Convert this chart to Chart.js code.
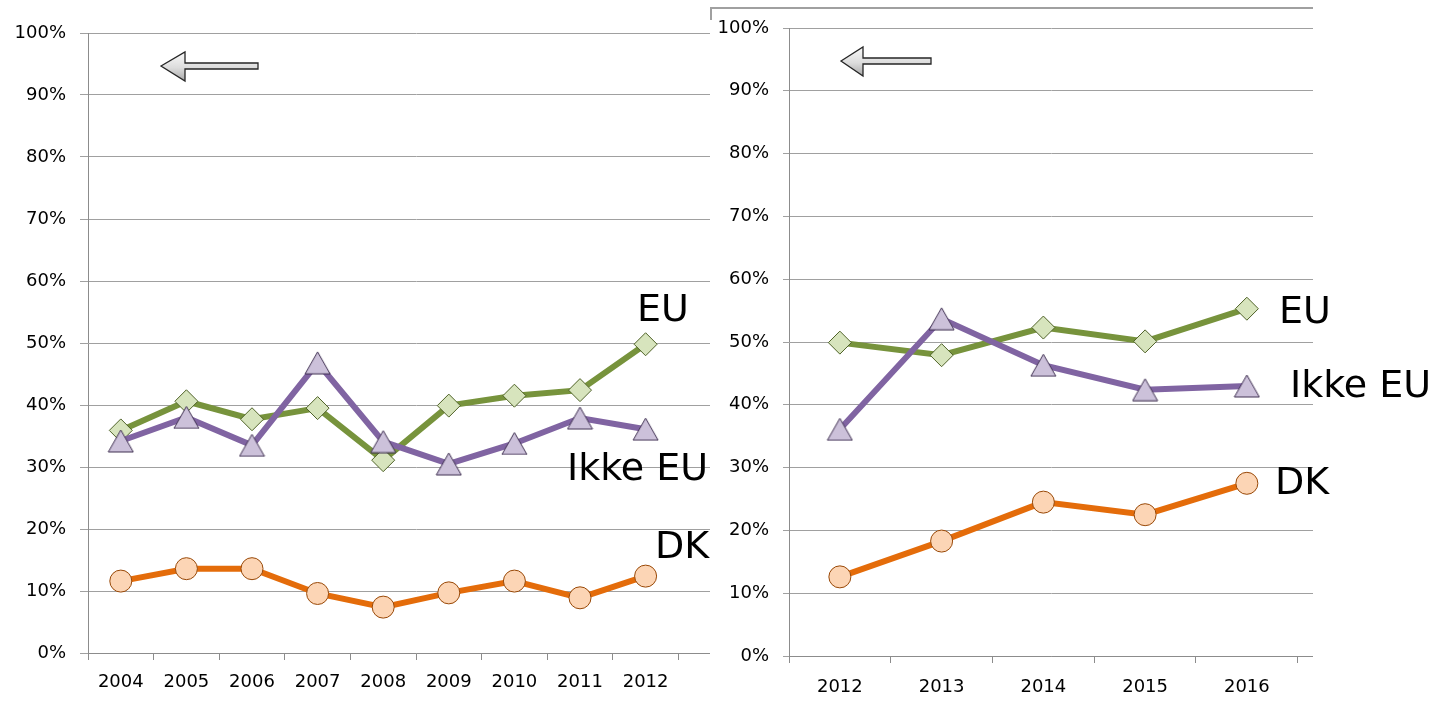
<!DOCTYPE html>
<html>
<head>
<meta charset="utf-8">
<script src="https://cdn.jsdelivr.net/npm/chart.js@4"></script>
<style>
body { margin:0; width:1436px; height:705px; background:#fff; position:relative; overflow:hidden; font-family:'DejaVu Sans', sans-serif; }
.box { position:absolute; top:0; height:705px; }
#leftBox { left:0; width:750px; z-index:1; }
#rightBox { left:710px; width:603px; background:#fff; z-index:2; }
.lbl { position:absolute; font-size:38px; line-height:38px; color:#000; white-space:nowrap; }
.under { z-index:1; }
.over { z-index:3; }
.arrow { position:absolute; }
.frame { position:absolute; background:#a0a0a0; }
</style>
</head>
<body>
<div id="leftBox" class="box"><canvas id="leftChart" width="750" height="705"></canvas></div>
<div class="lbl under" style="left:637px; top:289px;">EU</div>
<div class="lbl under" style="left:567px; top:448px;">Ikke EU</div>
<div class="lbl under" style="left:655px; top:526px;">DK</div>
<svg class="arrow" style="left:155px; top:46px; z-index:1;" width="110" height="42">
  <defs><linearGradient id="ga" x1="0" y1="0" x2="0" y2="1">
    <stop offset="0" stop-color="#fafafa"/><stop offset="0.55" stop-color="#dcdcdc"/><stop offset="1" stop-color="#a8a8a8"/>
  </linearGradient></defs>
  <path d="M6,20 L30,6 L30,17 L103,17 L103,23 L30,23 L30,35 Z" fill="url(#ga)" stroke="#262626" stroke-width="1.3" stroke-linejoin="miter"/>
</svg>

<div id="rightBox" class="box">
  <canvas id="rightChart" width="603" height="705"></canvas>
  <div class="frame" style="left:0; top:7px; width:603px; height:2px;"></div>
  <div class="frame" style="left:0; top:7px; width:2px; height:13px;"></div>
  <svg class="arrow" style="left:125px; top:41px;" width="100" height="42">
    <defs><linearGradient id="gb" x1="0" y1="0" x2="0" y2="1">
      <stop offset="0" stop-color="#fafafa"/><stop offset="0.55" stop-color="#dcdcdc"/><stop offset="1" stop-color="#a8a8a8"/>
    </linearGradient></defs>
    <path d="M6,20 L28,6 L28,17 L96,17 L96,23 L28,23 L28,35 Z" fill="url(#gb)" stroke="#262626" stroke-width="1.3"/>
  </svg>
</div>
<div class="lbl over" style="left:1279px; top:291px;">EU</div>
<div class="lbl over" style="left:1290px; top:365px;">Ikke EU</div>
<div class="lbl over" style="left:1275px; top:462px;">DK</div>

<script>
// values (percent)
var leftYears = ['2004', '2005', '2006', '2007', '2008', '2009', '2010', '2011', '2012'];
var leftEU = [35.9, 40.6, 37.7, 39.5, 31.1, 39.9, 41.5, 42.4, 49.8];
var leftIkkeEU = [34.2, 38.0, 33.5, 46.8, 34.1, 30.5, 33.8, 37.9, 36.1];
var leftDK = [11.6, 13.6, 13.6, 9.6, 7.4, 9.7, 11.6, 8.9, 12.4];

var rightYears = ['2012', '2013', '2014', '2015', '2016'];
var rightEU = [49.9, 47.9, 52.3, 50.1, 55.3];
var rightIkkeEU = [36.1, 53.7, 46.3, 42.4, 43.0];
var rightDK = [12.6, 18.3, 24.5, 22.5, 27.5];

var yMax = 100;
var yStep = 10;

Chart.defaults.font.family = "'DejaVu Sans', sans-serif";
Chart.defaults.font.size = 18;
Chart.defaults.color = '#000';

function triangleMarker(fill, stroke) {
	var c = document.createElement('canvas');
	c.width = 27; c.height = 24;
	var g = c.getContext('2d');
	g.beginPath();
	g.moveTo(13.5, 1);
	g.lineTo(26, 23);
	g.lineTo(1, 23);
	g.closePath();
	g.fillStyle = fill; g.fill();
	g.lineWidth = 1; g.strokeStyle = stroke; g.stroke();
	return c;
}

function points(values) {
	return values.map(function (v, i) { return {x: i, y: v}; });
}

function makeData(eu, ikke, dk) {
	return {datasets: [
		{ label: 'Ikke EU', data: points(ikke), borderColor: '#8064A2', borderWidth: 6,
		  pointStyle: triangleMarker('#CCC1DA', '#403152'), pointRadius: 13 },
		{ label: 'EU', data: points(eu), borderColor: '#77933C', borderWidth: 6,
		  pointStyle: 'rectRot', pointRadius: 11.5, pointBackgroundColor: '#D7E4BD',
		  pointBorderColor: '#4F6228', pointBorderWidth: 1 },
		{ label: 'DK', data: points(dk), borderColor: '#E46C0A', borderWidth: 6,
		  pointStyle: 'circle', pointRadius: 11, pointBackgroundColor: '#FCD5B5',
		  pointBorderColor: '#984807', pointBorderWidth: 1 }
	]};
}

function makeOptions(years, xMax, yWidth, xHeight, padTop, padRight, yTickLen, xPad) {
	return {
		responsive: false,
		animation: false,
		layout: { autoPadding: false, padding: { top: padTop, right: padRight, left: 0, bottom: 0 } },
		plugins: { legend: { display: false }, tooltip: { enabled: false } },
		elements: { line: { tension: 0 } },
		scales: {
			x: {
				type: 'linear', min: -0.5, max: xMax,
				afterBuildTicks: function (s) {
					var t = [];
					for (var v = -0.5; v <= xMax + 1e-9; v += 0.5) t.push({value: v});
					s.ticks = t;
				},
				afterFit: function (s) {
					s.height = xHeight;
					s.paddingLeft = 0; s.paddingRight = 0;
				},
				ticks: {
					autoSkip: false, maxRotation: 0, minRotation: 0, padding: xPad,
					callback: function (v) { return Number.isInteger(v) && years[v] ? years[v] : ''; }
				},
				grid: {
					drawOnChartArea: false, tickLength: 7,
					tickColor: function (ctx) { return Number.isInteger(ctx.tick.value) ? 'rgba(0,0,0,0)' : '#8c8c8c'; }
				},
				border: { display: true, color: '#8c8c8c', width: 1 }
			},
			y: {
				min: 0, max: yMax,
				afterFit: function (s) {
					s.width = yWidth;
					s.paddingTop = 0; s.paddingBottom = 0;
				},
				ticks: { stepSize: yStep, padding: 14, callback: function (v) { return v + '%'; } },
				grid: { color: '#a0a0a0', lineWidth: 1, tickLength: yTickLen },
				border: { display: true, color: '#8c8c8c', width: 1 }
			}
		}
	};
}

var leftChart = new Chart(document.getElementById('leftChart').getContext('2d'), {
	type: 'line',
	data: makeData(leftEU, leftIkkeEU, leftDK),
	options: makeOptions(leftYears, 9.5, 88, 52, 33, 6, 8, 12)
});

var rightChart = new Chart(document.getElementById('rightChart').getContext('2d'), {
	type: 'line',
	data: makeData(rightEU, rightIkkeEU, rightDK),
	options: makeOptions(rightYears, 4.65, 79, 49, 28, 0, 6, 14)
});
</script>
</body>
</html>
